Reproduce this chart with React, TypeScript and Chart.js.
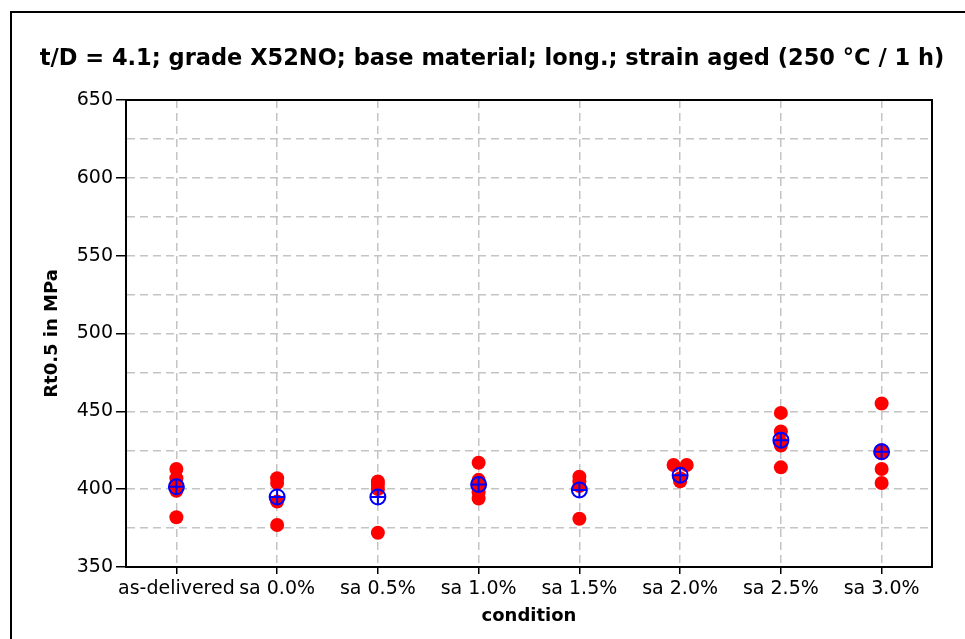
import { useEffect, useRef } from 'react';
import { Chart, registerables } from 'chart.js';

Chart.register(...registerables);

// Test conditions along the x axis
const conditions = ['as-delivered', 'sa 0.0%', 'sa 0.5%', 'sa 1.0%', 'sa 1.5%', 'sa 2.0%', 'sa 2.5%', 'sa 3.0%'];

// Individual Rt0.5 results per condition, MPa
const asDelivered = [413, 407, 402, 399, 382];
const sa00 = [407, 404, 392, 377];
const sa05 = [405, 403, 400, 372];
const sa10 = [417, 406, 403, 398, 394];
const sa15 = [408, 405, 402, 381];
const sa20 = [415.5, 415.5, 407, 405];
const sa25 = [449, 437, 430, 428, 414];
const sa30 = [455, 425, 423, 413, 404];

// Mean value per condition, MPa
const meanValues = [401.5, 395, 395, 403, 399.5, 409, 431.5, 424];

// Labelled y ticks (grid lines are drawn every half step)
const yLabelStep = 50;
const yGridStep = 25;
const yMin = 350;
const yMax = 650;

const titleText = 't/D = 4.1; grade X52NO; base material; long.; strain aged (250 °C / 1 h)';
const yTitle = 'Rt0.5 in MPa';
const xTitle = 'condition';

const FONT = "'DejaVu Sans', sans-serif";
const JITTER = 0.065; // horizontal spread for identical results

const results = [asDelivered, sa00, sa05, sa10, sa15, sa20, sa25, sa30];

function buildPoints() {
  const pts: { x: number; y: number }[] = [];
  results.forEach((vals, i) => {
    const seen: Record<string, number> = {};
    const counts: Record<string, number> = {};
    vals.forEach((v) => (counts[v] = (counts[v] || 0) + 1));
    vals.forEach((v) => {
      const k = counts[v];
      const j = seen[v] || 0;
      seen[v] = j + 1;
      const off = k > 1 ? (j - (k - 1) / 2) * 2 * JITTER : 0;
      pts.push({ x: i + off, y: v });
    });
  });
  return pts;
}

const framePlugin = {
  id: 'figureFrame',
  beforeDraw(chart: any) {
    const { ctx, width, height } = chart;
    ctx.save();
    ctx.fillStyle = '#fff';
    ctx.fillRect(0, 0, width, height);
    ctx.strokeStyle = '#000';
    ctx.lineWidth = 2;
    ctx.beginPath();
    ctx.moveTo(11, height);
    ctx.lineTo(11, 12);
    ctx.lineTo(width, 12);
    ctx.stroke();
    ctx.restore();
  },
  afterDraw(chart: any) {
    const { ctx, chartArea } = chart;
    ctx.save();
    ctx.strokeStyle = '#000';
    ctx.lineWidth = 2;
    ctx.strokeRect(chartArea.left, chartArea.top, chartArea.right - chartArea.left, chartArea.bottom - chartArea.top);
    // figure title
    ctx.fillStyle = '#000';
    ctx.font = `bold 22.5px ${FONT}`;
    ctx.textAlign = 'center';
    ctx.textBaseline = 'middle';
    ctx.fillText(titleText, 492, 59);
    ctx.restore();
  },
};

export default function App() {
  const canvasRef = useRef<HTMLCanvasElement | null>(null);

  useEffect(() => {
    document.body.style.margin = '0';
    const canvas = canvasRef.current;
    if (!canvas) return;

    const means = meanValues.map((v, i) => ({ x: i, y: v }));

    const chart = new Chart(canvas, {
      type: 'scatter',
      data: {
        datasets: [
          {
            label: 'results',
            data: buildPoints(),
            order: 3,
            pointRadius: 7,
            pointBackgroundColor: '#ff0000',
            pointBorderWidth: 0,
            pointBorderColor: '#ff0000',
            pointStyle: 'circle',
          },
          {
            label: 'mean',
            data: means,
            order: 2,
            pointRadius: 7.5,
            pointBackgroundColor: 'rgba(0,0,0,0)',
            pointBorderColor: '#0000ff',
            pointBorderWidth: 2,
            pointStyle: 'circle',
          },
          {
            label: 'mean cross',
            data: means,
            order: 1,
            pointRadius: 7.5,
            pointBorderColor: '#0000ff',
            pointBorderWidth: 2,
            pointStyle: 'cross',
          },
        ],
      },
      options: {
        animation: false,
        responsive: false,
        devicePixelRatio: 1,
        layout: { padding: { top: 100, right: 33, bottom: 0, left: 0 } },
        plugins: {
          legend: { display: false },
          tooltip: { enabled: false },
          title: { display: false },
        },
        scales: {
          x: {
            type: 'linear',
            min: -0.5,
            max: conditions.length - 0.5,
            afterBuildTicks: (s: any) => {
              s.ticks = conditions.map((_, i) => ({ value: i }));
            },
            afterFit: (s: any) => {
              s.height = 72;
            },
            ticks: {
              autoSkip: false,
              maxRotation: 0,
              minRotation: 0,
              padding: 4,
              color: '#000',
              font: { family: FONT, size: 19 },
              callback: (v: any) => conditions[v] ?? '',
            },
            grid: {
              color: '#c4c4c4',
              lineWidth: 1.5,
              tickLength: 7,
              tickColor: '#000',
              tickWidth: 1.5,
            },
            border: { color: '#000', width: 2, dash: [8, 5] },
            title: {
              display: true,
              text: xTitle,
              color: '#000',
              font: { family: FONT, size: 18, weight: 'bold' },
              padding: { top: 0, bottom: 12 },
            },
          },
          y: {
            min: yMin,
            max: yMax,
            afterFit: (s: any) => {
              s.width = 126;
            },
            ticks: {
              stepSize: yGridStep,
              padding: 3,
              color: '#000',
              font: { family: FONT, size: 19 },
              callback: (v: any) => (v % yLabelStep === 0 ? String(v) : ''),
            },
            grid: {
              color: '#c4c4c4',
              lineWidth: 1.5,
              tickLength: 10,
              tickWidth: 1.5,
              tickColor: (ctx: any) =>
                ctx.tick && ctx.tick.value % yLabelStep === 0 ? '#000' : 'rgba(0,0,0,0)',
            },
            border: { color: '#000', width: 2, dash: [8, 5] },
            title: {
              display: true,
              text: yTitle,
              color: '#000',
              font: { family: FONT, size: 18, weight: 'bold' },
              padding: { top: 42, bottom: 0 },
            },
          },
        },
      },
      plugins: [framePlugin],
    });

    return () => chart.destroy();
  }, []);

  return (
    <div style={{ width: 965, height: 639 }}>
      <canvas ref={canvasRef} width={965} height={639} />
    </div>
  );
}
